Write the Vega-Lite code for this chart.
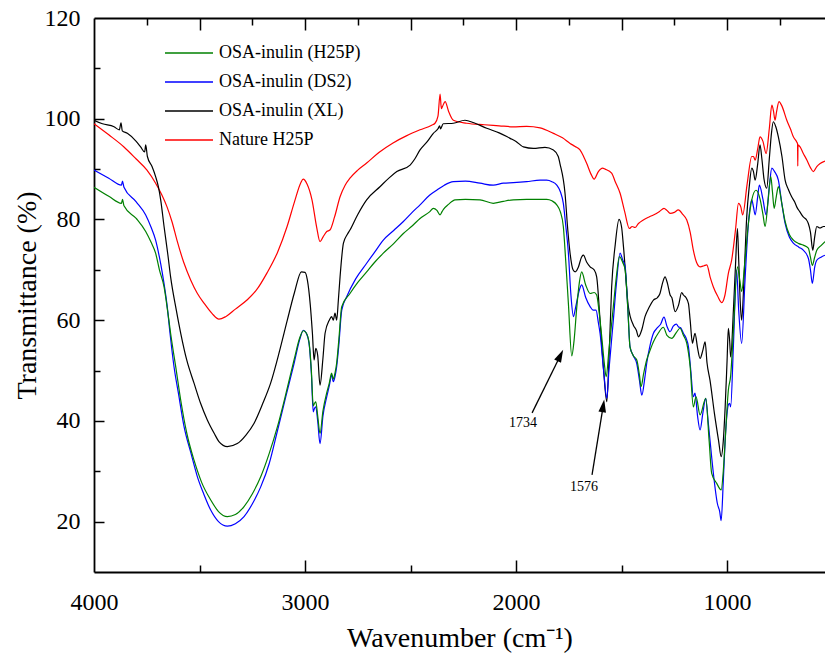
{
  "$schema": "https://vega.github.io/schema/vega-lite/v6.json",
  "width": 731,
  "height": 554,
  "autosize": {"type": "none"},
  "padding": {"left": 94, "top": 18, "right": 0, "bottom": 91},
  "background": "white",
  "config": {
    "view": {"stroke": null},
    "axis": {
      "labelFont": "Liberation Serif",
      "labelFontSize": 24,
      "labelColor": "black",
      "titleFont": "Liberation Serif",
      "titleFontSize": 28,
      "titleFontWeight": "normal",
      "titleColor": "black",
      "domainColor": "black",
      "domainWidth": 1.8,
      "tickColor": "black",
      "tickWidth": 1.5,
      "grid": false,
      "labelFlush": false,
      "labelOverlap": false
    },
    "text": {"font": "Liberation Serif"}
  },
  "datasets": {
    "spectra": [
      {"s":"Nature H25P","w":4000,"t":99.0},{"s":"Nature H25P","w":3930,"t":96.8},{"s":"Nature H25P","w":3858,"t":94.4},{"s":"Nature H25P","w":3800,"t":92.0},{"s":"Nature H25P","w":3749,"t":89.8},{"s":"Nature H25P","w":3708,"t":87.2},{"s":"Nature H25P","w":3680,"t":85.0},{"s":"Nature H25P","w":3654,"t":82.5},{"s":"Nature H25P","w":3630,"t":79.5},{"s":"Nature H25P","w":3607,"t":75.9},{"s":"Nature H25P","w":3575,"t":71.5},{"s":"Nature H25P","w":3542,"t":68.0},{"s":"Nature H25P","w":3510,"t":65.3},{"s":"Nature H25P","w":3479,"t":63.4},{"s":"Nature H25P","w":3440,"t":61.3},{"s":"Nature H25P","w":3408,"t":60.2},{"s":"Nature H25P","w":3376,"t":60.7},{"s":"Nature H25P","w":3330,"t":62.2},{"s":"Nature H25P","w":3275,"t":64.0},{"s":"Nature H25P","w":3230,"t":66.0},{"s":"Nature H25P","w":3180,"t":69.4},{"s":"Nature H25P","w":3130,"t":73.5},{"s":"Nature H25P","w":3085,"t":78.6},{"s":"Nature H25P","w":3050,"t":83.5},{"s":"Nature H25P","w":3020,"t":87.3},{"s":"Nature H25P","w":3009,"t":88.0},{"s":"Nature H25P","w":2990,"t":87.0},{"s":"Nature H25P","w":2967,"t":83.9},{"s":"Nature H25P","w":2945,"t":78.5},{"s":"Nature H25P","w":2929,"t":75.6},{"s":"Nature H25P","w":2915,"t":76.5},{"s":"Nature H25P","w":2897,"t":77.6},{"s":"Nature H25P","w":2882,"t":77.9},{"s":"Nature H25P","w":2860,"t":80.5},{"s":"Nature H25P","w":2834,"t":84.5},{"s":"Nature H25P","w":2810,"t":86.8},{"s":"Nature H25P","w":2787,"t":88.2},{"s":"Nature H25P","w":2750,"t":89.8},{"s":"Nature H25P","w":2708,"t":91.2},{"s":"Nature H25P","w":2650,"t":93.3},{"s":"Nature H25P","w":2583,"t":95.2},{"s":"Nature H25P","w":2520,"t":96.6},{"s":"Nature H25P","w":2455,"t":97.8},{"s":"Nature H25P","w":2400,"t":98.7},{"s":"Nature H25P","w":2384,"t":99.1},{"s":"Nature H25P","w":2370,"t":100.5},{"s":"Nature H25P","w":2360,"t":104.9},{"s":"Nature H25P","w":2354,"t":102.0},{"s":"Nature H25P","w":2349,"t":102.4},{"s":"Nature H25P","w":2336,"t":103.4},{"s":"Nature H25P","w":2320,"t":101.5},{"s":"Nature H25P","w":2297,"t":99.7},{"s":"Nature H25P","w":2234,"t":99.1},{"s":"Nature H25P","w":2150,"t":98.8},{"s":"Nature H25P","w":2080,"t":98.6},{"s":"Nature H25P","w":2014,"t":98.4},{"s":"Nature H25P","w":1950,"t":98.5},{"s":"Nature H25P","w":1886,"t":98.2},{"s":"Nature H25P","w":1823,"t":97.1},{"s":"Nature H25P","w":1780,"t":96.2},{"s":"Nature H25P","w":1744,"t":95.1},{"s":"Nature H25P","w":1720,"t":94.5},{"s":"Nature H25P","w":1697,"t":93.8},{"s":"Nature H25P","w":1680,"t":92.5},{"s":"Nature H25P","w":1665,"t":91.1},{"s":"Nature H25P","w":1645,"t":89.0},{"s":"Nature H25P","w":1630,"t":88.0},{"s":"Nature H25P","w":1610,"t":89.5},{"s":"Nature H25P","w":1590,"t":90.2},{"s":"Nature H25P","w":1578,"t":90.0},{"s":"Nature H25P","w":1547,"t":89.2},{"s":"Nature H25P","w":1530,"t":87.5},{"s":"Nature H25P","w":1507,"t":85.2},{"s":"Nature H25P","w":1485,"t":81.5},{"s":"Nature H25P","w":1463,"t":78.2},{"s":"Nature H25P","w":1450,"t":78.6},{"s":"Nature H25P","w":1436,"t":78.4},{"s":"Nature H25P","w":1420,"t":79.2},{"s":"Nature H25P","w":1397,"t":79.9},{"s":"Nature H25P","w":1370,"t":80.5},{"s":"Nature H25P","w":1349,"t":80.9},{"s":"Nature H25P","w":1320,"t":81.6},{"s":"Nature H25P","w":1299,"t":82.2},{"s":"Nature H25P","w":1285,"t":81.8},{"s":"Nature H25P","w":1270,"t":81.2},{"s":"Nature H25P","w":1250,"t":81.4},{"s":"Nature H25P","w":1231,"t":81.9},{"s":"Nature H25P","w":1210,"t":81.0},{"s":"Nature H25P","w":1191,"t":79.9},{"s":"Nature H25P","w":1175,"t":77.5},{"s":"Nature H25P","w":1160,"t":73.9},{"s":"Nature H25P","w":1145,"t":71.5},{"s":"Nature H25P","w":1128,"t":70.6},{"s":"Nature H25P","w":1110,"t":70.8},{"s":"Nature H25P","w":1096,"t":71.0},{"s":"Nature H25P","w":1080,"t":68.5},{"s":"Nature H25P","w":1065,"t":66.6},{"s":"Nature H25P","w":1045,"t":64.8},{"s":"Nature H25P","w":1025,"t":63.5},{"s":"Nature H25P","w":1010,"t":65.0},{"s":"Nature H25P","w":994,"t":69.3},{"s":"Nature H25P","w":978,"t":72.0},{"s":"Nature H25P","w":960,"t":78.0},{"s":"Nature H25P","w":946,"t":83.2},{"s":"Nature H25P","w":935,"t":82.5},{"s":"Nature H25P","w":926,"t":80.9},{"s":"Nature H25P","w":905,"t":87.0},{"s":"Nature H25P","w":883,"t":92.5},{"s":"Nature H25P","w":875,"t":92.5},{"s":"Nature H25P","w":867,"t":91.8},{"s":"Nature H25P","w":855,"t":94.0},{"s":"Nature H25P","w":844,"t":96.4},{"s":"Nature H25P","w":830,"t":95.5},{"s":"Nature H25P","w":815,"t":93.1},{"s":"Nature H25P","w":800,"t":98.0},{"s":"Nature H25P","w":788,"t":102.7},{"s":"Nature H25P","w":780,"t":101.5},{"s":"Nature H25P","w":773,"t":99.7},{"s":"Nature H25P","w":765,"t":101.5},{"s":"Nature H25P","w":754,"t":103.4},{"s":"Nature H25P","w":740,"t":102.5},{"s":"Nature H25P","w":717,"t":99.7},{"s":"Nature H25P","w":700,"t":98.0},{"s":"Nature H25P","w":686,"t":96.4},{"s":"Nature H25P","w":670,"t":95.4},{"s":"Nature H25P","w":666,"t":95.0},{"s":"Nature H25P","w":665,"t":90.6},{"s":"Nature H25P","w":664,"t":94.8},{"s":"Nature H25P","w":654,"t":94.4},{"s":"Nature H25P","w":640,"t":93.2},{"s":"Nature H25P","w":622,"t":91.8},{"s":"Nature H25P","w":605,"t":90.3},{"s":"Nature H25P","w":591,"t":89.5},{"s":"Nature H25P","w":575,"t":90.5},{"s":"Nature H25P","w":559,"t":91.1},{"s":"Nature H25P","w":536,"t":91.6},

      {"s":"OSA-inulin (XL)","w":4000,"t":99.7},{"s":"OSA-inulin (XL)","w":3960,"t":99.0},{"s":"OSA-inulin (XL)","w":3905,"t":98.4},{"s":"OSA-inulin (XL)","w":3880,"t":97.8},{"s":"OSA-inulin (XL)","w":3872,"t":99.2},{"s":"OSA-inulin (XL)","w":3866,"t":97.6},{"s":"OSA-inulin (XL)","w":3842,"t":97.1},{"s":"OSA-inulin (XL)","w":3800,"t":95.5},{"s":"OSA-inulin (XL)","w":3779,"t":94.4},{"s":"OSA-inulin (XL)","w":3760,"t":93.4},{"s":"OSA-inulin (XL)","w":3755,"t":94.8},{"s":"OSA-inulin (XL)","w":3747,"t":92.5},{"s":"OSA-inulin (XL)","w":3725,"t":90.5},{"s":"OSA-inulin (XL)","w":3708,"t":88.5},{"s":"OSA-inulin (XL)","w":3695,"t":86.5},{"s":"OSA-inulin (XL)","w":3684,"t":83.9},{"s":"OSA-inulin (XL)","w":3668,"t":78.6},{"s":"OSA-inulin (XL)","w":3650,"t":73.0},{"s":"OSA-inulin (XL)","w":3637,"t":68.6},{"s":"OSA-inulin (XL)","w":3610,"t":62.0},{"s":"OSA-inulin (XL)","w":3589,"t":57.4},{"s":"OSA-inulin (XL)","w":3560,"t":52.0},{"s":"OSA-inulin (XL)","w":3526,"t":47.5},{"s":"OSA-inulin (XL)","w":3495,"t":43.5},{"s":"OSA-inulin (XL)","w":3463,"t":40.2},{"s":"OSA-inulin (XL)","w":3430,"t":37.5},{"s":"OSA-inulin (XL)","w":3408,"t":35.9},{"s":"OSA-inulin (XL)","w":3368,"t":34.9},{"s":"OSA-inulin (XL)","w":3321,"t":35.5},{"s":"OSA-inulin (XL)","w":3280,"t":37.2},{"s":"OSA-inulin (XL)","w":3242,"t":39.5},{"s":"OSA-inulin (XL)","w":3200,"t":43.5},{"s":"OSA-inulin (XL)","w":3163,"t":47.5},{"s":"OSA-inulin (XL)","w":3120,"t":54.0},{"s":"OSA-inulin (XL)","w":3084,"t":60.0},{"s":"OSA-inulin (XL)","w":3050,"t":65.5},{"s":"OSA-inulin (XL)","w":3017,"t":69.6},{"s":"OSA-inulin (XL)","w":3000,"t":69.5},{"s":"OSA-inulin (XL)","w":2989,"t":68.0},{"s":"OSA-inulin (XL)","w":2975,"t":63.0},{"s":"OSA-inulin (XL)","w":2965,"t":57.4},{"s":"OSA-inulin (XL)","w":2957,"t":52.1},{"s":"OSA-inulin (XL)","w":2949,"t":54.4},{"s":"OSA-inulin (XL)","w":2940,"t":53.0},{"s":"OSA-inulin (XL)","w":2929,"t":47.1},{"s":"OSA-inulin (XL)","w":2915,"t":52.5},{"s":"OSA-inulin (XL)","w":2905,"t":57.4},{"s":"OSA-inulin (XL)","w":2885,"t":60.0},{"s":"OSA-inulin (XL)","w":2874,"t":60.7},{"s":"OSA-inulin (XL)","w":2866,"t":60.0},{"s":"OSA-inulin (XL)","w":2858,"t":61.4},{"s":"OSA-inulin (XL)","w":2850,"t":60.0},{"s":"OSA-inulin (XL)","w":2842,"t":64.0},{"s":"OSA-inulin (XL)","w":2834,"t":68.6},{"s":"OSA-inulin (XL)","w":2818,"t":75.3},{"s":"OSA-inulin (XL)","w":2800,"t":77.0},{"s":"OSA-inulin (XL)","w":2787,"t":77.9},{"s":"OSA-inulin (XL)","w":2750,"t":81.0},{"s":"OSA-inulin (XL)","w":2708,"t":83.9},{"s":"OSA-inulin (XL)","w":2645,"t":86.5},{"s":"OSA-inulin (XL)","w":2600,"t":88.3},{"s":"OSA-inulin (XL)","w":2565,"t":89.5},{"s":"OSA-inulin (XL)","w":2502,"t":90.8},{"s":"OSA-inulin (XL)","w":2480,"t":92.0},{"s":"OSA-inulin (XL)","w":2455,"t":93.8},{"s":"OSA-inulin (XL)","w":2420,"t":95.5},{"s":"OSA-inulin (XL)","w":2392,"t":97.1},{"s":"OSA-inulin (XL)","w":2370,"t":98.0},{"s":"OSA-inulin (XL)","w":2362,"t":98.6},{"s":"OSA-inulin (XL)","w":2358,"t":98.0},{"s":"OSA-inulin (XL)","w":2345,"t":99.0},{"s":"OSA-inulin (XL)","w":2297,"t":99.1},{"s":"OSA-inulin (XL)","w":2242,"t":99.7},{"s":"OSA-inulin (XL)","w":2200,"t":99.2},{"s":"OSA-inulin (XL)","w":2139,"t":98.1},{"s":"OSA-inulin (XL)","w":2080,"t":97.2},{"s":"OSA-inulin (XL)","w":2028,"t":96.1},{"s":"OSA-inulin (XL)","w":2000,"t":95.5},{"s":"OSA-inulin (XL)","w":1965,"t":94.4},{"s":"OSA-inulin (XL)","w":1918,"t":94.1},{"s":"OSA-inulin (XL)","w":1863,"t":94.3},{"s":"OSA-inulin (XL)","w":1823,"t":93.8},{"s":"OSA-inulin (XL)","w":1800,"t":92.5},{"s":"OSA-inulin (XL)","w":1792,"t":91.1},{"s":"OSA-inulin (XL)","w":1768,"t":85.2},{"s":"OSA-inulin (XL)","w":1755,"t":78.0},{"s":"OSA-inulin (XL)","w":1744,"t":73.3},{"s":"OSA-inulin (XL)","w":1730,"t":70.0},{"s":"OSA-inulin (XL)","w":1720,"t":69.6},{"s":"OSA-inulin (XL)","w":1705,"t":70.5},{"s":"OSA-inulin (XL)","w":1690,"t":72.5},{"s":"OSA-inulin (XL)","w":1681,"t":72.9},{"s":"OSA-inulin (XL)","w":1665,"t":71.5},{"s":"OSA-inulin (XL)","w":1649,"t":70.6},{"s":"OSA-inulin (XL)","w":1630,"t":70.0},{"s":"OSA-inulin (XL)","w":1618,"t":68.6},{"s":"OSA-inulin (XL)","w":1602,"t":60.0},{"s":"OSA-inulin (XL)","w":1585,"t":50.0},{"s":"OSA-inulin (XL)","w":1570,"t":43.8},{"s":"OSA-inulin (XL)","w":1560,"t":52.0},{"s":"OSA-inulin (XL)","w":1547,"t":66.6},{"s":"OSA-inulin (XL)","w":1530,"t":75.0},{"s":"OSA-inulin (XL)","w":1512,"t":80.0},{"s":"OSA-inulin (XL)","w":1500,"t":78.5},{"s":"OSA-inulin (XL)","w":1491,"t":74.6},{"s":"OSA-inulin (XL)","w":1468,"t":62.7},{"s":"OSA-inulin (XL)","w":1444,"t":59.0},{"s":"OSA-inulin (XL)","w":1430,"t":58.0},{"s":"OSA-inulin (XL)","w":1420,"t":56.7},{"s":"OSA-inulin (XL)","w":1405,"t":58.0},{"s":"OSA-inulin (XL)","w":1389,"t":60.7},{"s":"OSA-inulin (XL)","w":1370,"t":62.5},{"s":"OSA-inulin (XL)","w":1349,"t":64.0},{"s":"OSA-inulin (XL)","w":1330,"t":64.5},{"s":"OSA-inulin (XL)","w":1318,"t":65.3},{"s":"OSA-inulin (XL)","w":1305,"t":67.5},{"s":"OSA-inulin (XL)","w":1294,"t":68.6},{"s":"OSA-inulin (XL)","w":1282,"t":67.2},{"s":"OSA-inulin (XL)","w":1270,"t":65.0},{"s":"OSA-inulin (XL)","w":1262,"t":64.5},{"s":"OSA-inulin (XL)","w":1246,"t":61.7},{"s":"OSA-inulin (XL)","w":1230,"t":63.0},{"s":"OSA-inulin (XL)","w":1215,"t":65.5},{"s":"OSA-inulin (XL)","w":1207,"t":65.0},{"s":"OSA-inulin (XL)","w":1195,"t":64.5},{"s":"OSA-inulin (XL)","w":1183,"t":63.3},{"s":"OSA-inulin (XL)","w":1175,"t":60.0},{"s":"OSA-inulin (XL)","w":1164,"t":55.4},{"s":"OSA-inulin (XL)","w":1158,"t":56.5},{"s":"OSA-inulin (XL)","w":1152,"t":57.4},{"s":"OSA-inulin (XL)","w":1140,"t":54.5},{"s":"OSA-inulin (XL)","w":1128,"t":52.4},{"s":"OSA-inulin (XL)","w":1115,"t":54.0},{"s":"OSA-inulin (XL)","w":1104,"t":55.7},{"s":"OSA-inulin (XL)","w":1095,"t":51.5},{"s":"OSA-inulin (XL)","w":1081,"t":48.1},{"s":"OSA-inulin (XL)","w":1060,"t":41.5},{"s":"OSA-inulin (XL)","w":1040,"t":36.0},{"s":"OSA-inulin (XL)","w":1028,"t":32.9},{"s":"OSA-inulin (XL)","w":1018,"t":36.0},{"s":"OSA-inulin (XL)","w":1009,"t":42.8},{"s":"OSA-inulin (XL)","w":1000,"t":52.0},{"s":"OSA-inulin (XL)","w":994,"t":58.4},{"s":"OSA-inulin (XL)","w":988,"t":56.0},{"s":"OSA-inulin (XL)","w":983,"t":52.7},{"s":"OSA-inulin (XL)","w":970,"t":62.0},{"s":"OSA-inulin (XL)","w":960,"t":71.0},{"s":"OSA-inulin (XL)","w":951,"t":78.2},{"s":"OSA-inulin (XL)","w":945,"t":72.0},{"s":"OSA-inulin (XL)","w":937,"t":63.0},{"s":"OSA-inulin (XL)","w":931,"t":60.0},{"s":"OSA-inulin (XL)","w":920,"t":68.0},{"s":"OSA-inulin (XL)","w":907,"t":80.5},{"s":"OSA-inulin (XL)","w":895,"t":86.5},{"s":"OSA-inulin (XL)","w":883,"t":90.2},{"s":"OSA-inulin (XL)","w":875,"t":89.5},{"s":"OSA-inulin (XL)","w":867,"t":87.8},{"s":"OSA-inulin (XL)","w":855,"t":91.0},{"s":"OSA-inulin (XL)","w":844,"t":94.8},{"s":"OSA-inulin (XL)","w":835,"t":92.0},{"s":"OSA-inulin (XL)","w":825,"t":88.0},{"s":"OSA-inulin (XL)","w":812,"t":86.2},{"s":"OSA-inulin (XL)","w":800,"t":92.0},{"s":"OSA-inulin (XL)","w":790,"t":97.0},{"s":"OSA-inulin (XL)","w":781,"t":99.4},{"s":"OSA-inulin (XL)","w":770,"t":98.5},{"s":"OSA-inulin (XL)","w":757,"t":96.4},{"s":"OSA-inulin (XL)","w":740,"t":92.5},{"s":"OSA-inulin (XL)","w":725,"t":87.8},{"s":"OSA-inulin (XL)","w":710,"t":86.0},{"s":"OSA-inulin (XL)","w":694,"t":84.5},{"s":"OSA-inulin (XL)","w":680,"t":83.5},{"s":"OSA-inulin (XL)","w":670,"t":82.5},{"s":"OSA-inulin (XL)","w":655,"t":81.5},{"s":"OSA-inulin (XL)","w":639,"t":80.5},{"s":"OSA-inulin (XL)","w":625,"t":80.0},{"s":"OSA-inulin (XL)","w":615,"t":79.2},{"s":"OSA-inulin (XL)","w":605,"t":77.5},{"s":"OSA-inulin (XL)","w":594,"t":73.9},{"s":"OSA-inulin (XL)","w":585,"t":76.5},{"s":"OSA-inulin (XL)","w":575,"t":78.6},{"s":"OSA-inulin (XL)","w":560,"t":78.3},{"s":"OSA-inulin (XL)","w":543,"t":78.6},{"s":"OSA-inulin (XL)","w":536,"t":78.6},

      {"s":"OSA-inulin (DS2)","w":4000,"t":89.8},{"s":"OSA-inulin (DS2)","w":3930,"t":88.2},{"s":"OSA-inulin (DS2)","w":3870,"t":86.8},{"s":"OSA-inulin (DS2)","w":3865,"t":87.6},{"s":"OSA-inulin (DS2)","w":3858,"t":86.4},{"s":"OSA-inulin (DS2)","w":3800,"t":83.5},{"s":"OSA-inulin (DS2)","w":3755,"t":80.9},{"s":"OSA-inulin (DS2)","w":3730,"t":78.5},{"s":"OSA-inulin (DS2)","w":3708,"t":75.9},{"s":"OSA-inulin (DS2)","w":3690,"t":72.5},{"s":"OSA-inulin (DS2)","w":3676,"t":69.3},{"s":"OSA-inulin (DS2)","w":3653,"t":62.7},{"s":"OSA-inulin (DS2)","w":3640,"t":57.5},{"s":"OSA-inulin (DS2)","w":3621,"t":50.8},{"s":"OSA-inulin (DS2)","w":3600,"t":45.5},{"s":"OSA-inulin (DS2)","w":3573,"t":38.8},{"s":"OSA-inulin (DS2)","w":3540,"t":33.5},{"s":"OSA-inulin (DS2)","w":3510,"t":28.9},{"s":"OSA-inulin (DS2)","w":3480,"t":25.5},{"s":"OSA-inulin (DS2)","w":3447,"t":22.3},{"s":"OSA-inulin (DS2)","w":3410,"t":20.0},{"s":"OSA-inulin (DS2)","w":3368,"t":19.1},{"s":"OSA-inulin (DS2)","w":3330,"t":19.6},{"s":"OSA-inulin (DS2)","w":3289,"t":21.0},{"s":"OSA-inulin (DS2)","w":3250,"t":23.5},{"s":"OSA-inulin (DS2)","w":3210,"t":26.9},{"s":"OSA-inulin (DS2)","w":3170,"t":31.5},{"s":"OSA-inulin (DS2)","w":3131,"t":38.0},{"s":"OSA-inulin (DS2)","w":3090,"t":45.0},{"s":"OSA-inulin (DS2)","w":3052,"t":51.4},{"s":"OSA-inulin (DS2)","w":3025,"t":56.2},{"s":"OSA-inulin (DS2)","w":3008,"t":58.0},{"s":"OSA-inulin (DS2)","w":2995,"t":57.5},{"s":"OSA-inulin (DS2)","w":2981,"t":55.4},{"s":"OSA-inulin (DS2)","w":2970,"t":49.5},{"s":"OSA-inulin (DS2)","w":2961,"t":41.8},{"s":"OSA-inulin (DS2)","w":2955,"t":42.5},{"s":"OSA-inulin (DS2)","w":2949,"t":42.8},{"s":"OSA-inulin (DS2)","w":2940,"t":40.0},{"s":"OSA-inulin (DS2)","w":2929,"t":35.5},{"s":"OSA-inulin (DS2)","w":2915,"t":41.0},{"s":"OSA-inulin (DS2)","w":2897,"t":44.8},{"s":"OSA-inulin (DS2)","w":2885,"t":47.0},{"s":"OSA-inulin (DS2)","w":2874,"t":49.1},{"s":"OSA-inulin (DS2)","w":2866,"t":47.8},{"s":"OSA-inulin (DS2)","w":2858,"t":48.8},{"s":"OSA-inulin (DS2)","w":2850,"t":50.8},{"s":"OSA-inulin (DS2)","w":2840,"t":55.0},{"s":"OSA-inulin (DS2)","w":2826,"t":62.0},{"s":"OSA-inulin (DS2)","w":2802,"t":64.7},{"s":"OSA-inulin (DS2)","w":2760,"t":68.2},{"s":"OSA-inulin (DS2)","w":2708,"t":71.3},{"s":"OSA-inulin (DS2)","w":2670,"t":73.5},{"s":"OSA-inulin (DS2)","w":2629,"t":75.9},{"s":"OSA-inulin (DS2)","w":2580,"t":77.8},{"s":"OSA-inulin (DS2)","w":2534,"t":79.6},{"s":"OSA-inulin (DS2)","w":2490,"t":81.5},{"s":"OSA-inulin (DS2)","w":2455,"t":82.9},{"s":"OSA-inulin (DS2)","w":2410,"t":84.8},{"s":"OSA-inulin (DS2)","w":2376,"t":85.8},{"s":"OSA-inulin (DS2)","w":2340,"t":86.8},{"s":"OSA-inulin (DS2)","w":2297,"t":87.5},{"s":"OSA-inulin (DS2)","w":2240,"t":87.6},{"s":"OSA-inulin (DS2)","w":2171,"t":87.2},{"s":"OSA-inulin (DS2)","w":2108,"t":86.8},{"s":"OSA-inulin (DS2)","w":2060,"t":87.2},{"s":"OSA-inulin (DS2)","w":2013,"t":87.3},{"s":"OSA-inulin (DS2)","w":1950,"t":87.5},{"s":"OSA-inulin (DS2)","w":1886,"t":87.8},{"s":"OSA-inulin (DS2)","w":1855,"t":87.8},{"s":"OSA-inulin (DS2)","w":1830,"t":87.5},{"s":"OSA-inulin (DS2)","w":1807,"t":86.8},{"s":"OSA-inulin (DS2)","w":1790,"t":85.5},{"s":"OSA-inulin (DS2)","w":1776,"t":83.2},{"s":"OSA-inulin (DS2)","w":1765,"t":79.0},{"s":"OSA-inulin (DS2)","w":1752,"t":73.3},{"s":"OSA-inulin (DS2)","w":1740,"t":65.0},{"s":"OSA-inulin (DS2)","w":1728,"t":60.7},{"s":"OSA-inulin (DS2)","w":1718,"t":62.5},{"s":"OSA-inulin (DS2)","w":1700,"t":66.0},{"s":"OSA-inulin (DS2)","w":1689,"t":67.0},{"s":"OSA-inulin (DS2)","w":1670,"t":64.5},{"s":"OSA-inulin (DS2)","w":1649,"t":62.7},{"s":"OSA-inulin (DS2)","w":1635,"t":62.0},{"s":"OSA-inulin (DS2)","w":1621,"t":62.0},{"s":"OSA-inulin (DS2)","w":1610,"t":59.5},{"s":"OSA-inulin (DS2)","w":1602,"t":57.4},{"s":"OSA-inulin (DS2)","w":1585,"t":50.0},{"s":"OSA-inulin (DS2)","w":1570,"t":44.5},{"s":"OSA-inulin (DS2)","w":1560,"t":50.0},{"s":"OSA-inulin (DS2)","w":1539,"t":60.0},{"s":"OSA-inulin (DS2)","w":1525,"t":67.0},{"s":"OSA-inulin (DS2)","w":1507,"t":73.3},{"s":"OSA-inulin (DS2)","w":1495,"t":72.0},{"s":"OSA-inulin (DS2)","w":1483,"t":70.6},{"s":"OSA-inulin (DS2)","w":1470,"t":62.0},{"s":"OSA-inulin (DS2)","w":1460,"t":54.7},{"s":"OSA-inulin (DS2)","w":1445,"t":53.0},{"s":"OSA-inulin (DS2)","w":1428,"t":51.4},{"s":"OSA-inulin (DS2)","w":1415,"t":48.0},{"s":"OSA-inulin (DS2)","w":1404,"t":45.1},{"s":"OSA-inulin (DS2)","w":1390,"t":48.5},{"s":"OSA-inulin (DS2)","w":1381,"t":51.4},{"s":"OSA-inulin (DS2)","w":1365,"t":55.0},{"s":"OSA-inulin (DS2)","w":1349,"t":57.4},{"s":"OSA-inulin (DS2)","w":1330,"t":58.5},{"s":"OSA-inulin (DS2)","w":1315,"t":59.2},{"s":"OSA-inulin (DS2)","w":1299,"t":60.6},{"s":"OSA-inulin (DS2)","w":1285,"t":58.8},{"s":"OSA-inulin (DS2)","w":1270,"t":57.7},{"s":"OSA-inulin (DS2)","w":1255,"t":58.8},{"s":"OSA-inulin (DS2)","w":1240,"t":59.2},{"s":"OSA-inulin (DS2)","w":1231,"t":58.7},{"s":"OSA-inulin (DS2)","w":1220,"t":58.5},{"s":"OSA-inulin (DS2)","w":1207,"t":57.4},{"s":"OSA-inulin (DS2)","w":1195,"t":56.5},{"s":"OSA-inulin (DS2)","w":1183,"t":54.7},{"s":"OSA-inulin (DS2)","w":1172,"t":50.0},{"s":"OSA-inulin (DS2)","w":1160,"t":44.8},{"s":"OSA-inulin (DS2)","w":1152,"t":45.5},{"s":"OSA-inulin (DS2)","w":1140,"t":41.0},{"s":"OSA-inulin (DS2)","w":1128,"t":38.2},{"s":"OSA-inulin (DS2)","w":1115,"t":41.5},{"s":"OSA-inulin (DS2)","w":1101,"t":44.5},{"s":"OSA-inulin (DS2)","w":1090,"t":40.0},{"s":"OSA-inulin (DS2)","w":1081,"t":36.2},{"s":"OSA-inulin (DS2)","w":1065,"t":29.6},{"s":"OSA-inulin (DS2)","w":1046,"t":23.6},{"s":"OSA-inulin (DS2)","w":1035,"t":22.0},{"s":"OSA-inulin (DS2)","w":1028,"t":20.2},{"s":"OSA-inulin (DS2)","w":1018,"t":28.0},{"s":"OSA-inulin (DS2)","w":1009,"t":36.2},{"s":"OSA-inulin (DS2)","w":994,"t":43.2},{"s":"OSA-inulin (DS2)","w":988,"t":43.5},{"s":"OSA-inulin (DS2)","w":983,"t":42.8},{"s":"OSA-inulin (DS2)","w":970,"t":55.0},{"s":"OSA-inulin (DS2)","w":955,"t":70.0},{"s":"OSA-inulin (DS2)","w":945,"t":62.0},{"s":"OSA-inulin (DS2)","w":931,"t":55.4},{"s":"OSA-inulin (DS2)","w":915,"t":68.0},{"s":"OSA-inulin (DS2)","w":899,"t":79.2},{"s":"OSA-inulin (DS2)","w":883,"t":83.9},{"s":"OSA-inulin (DS2)","w":875,"t":82.5},{"s":"OSA-inulin (DS2)","w":867,"t":80.9},{"s":"OSA-inulin (DS2)","w":855,"t":84.5},{"s":"OSA-inulin (DS2)","w":847,"t":86.8},{"s":"OSA-inulin (DS2)","w":830,"t":84.0},{"s":"OSA-inulin (DS2)","w":815,"t":80.9},{"s":"OSA-inulin (DS2)","w":800,"t":86.5},{"s":"OSA-inulin (DS2)","w":788,"t":90.2},{"s":"OSA-inulin (DS2)","w":775,"t":89.5},{"s":"OSA-inulin (DS2)","w":757,"t":87.8},{"s":"OSA-inulin (DS2)","w":740,"t":83.0},{"s":"OSA-inulin (DS2)","w":725,"t":79.2},{"s":"OSA-inulin (DS2)","w":705,"t":76.5},{"s":"OSA-inulin (DS2)","w":686,"t":75.3},{"s":"OSA-inulin (DS2)","w":660,"t":74.5},{"s":"OSA-inulin (DS2)","w":639,"t":73.9},{"s":"OSA-inulin (DS2)","w":615,"t":72.3},{"s":"OSA-inulin (DS2)","w":605,"t":70.0},{"s":"OSA-inulin (DS2)","w":596,"t":67.3},{"s":"OSA-inulin (DS2)","w":585,"t":70.5},{"s":"OSA-inulin (DS2)","w":575,"t":71.9},{"s":"OSA-inulin (DS2)","w":555,"t":72.5},{"s":"OSA-inulin (DS2)","w":536,"t":72.9},

      {"s":"OSA-inulin (H25P)","w":4000,"t":86.4},{"s":"OSA-inulin (H25P)","w":3930,"t":84.6},{"s":"OSA-inulin (H25P)","w":3870,"t":83.2},{"s":"OSA-inulin (H25P)","w":3865,"t":84.0},{"s":"OSA-inulin (H25P)","w":3858,"t":82.7},{"s":"OSA-inulin (H25P)","w":3800,"t":80.2},{"s":"OSA-inulin (H25P)","w":3755,"t":77.6},{"s":"OSA-inulin (H25P)","w":3730,"t":75.5},{"s":"OSA-inulin (H25P)","w":3708,"t":73.3},{"s":"OSA-inulin (H25P)","w":3690,"t":70.0},{"s":"OSA-inulin (H25P)","w":3668,"t":66.6},{"s":"OSA-inulin (H25P)","w":3650,"t":61.5},{"s":"OSA-inulin (H25P)","w":3637,"t":57.4},{"s":"OSA-inulin (H25P)","w":3610,"t":50.0},{"s":"OSA-inulin (H25P)","w":3589,"t":44.1},{"s":"OSA-inulin (H25P)","w":3560,"t":37.5},{"s":"OSA-inulin (H25P)","w":3526,"t":32.2},{"s":"OSA-inulin (H25P)","w":3490,"t":27.8},{"s":"OSA-inulin (H25P)","w":3447,"t":24.3},{"s":"OSA-inulin (H25P)","w":3410,"t":22.0},{"s":"OSA-inulin (H25P)","w":3368,"t":21.0},{"s":"OSA-inulin (H25P)","w":3330,"t":21.4},{"s":"OSA-inulin (H25P)","w":3289,"t":23.0},{"s":"OSA-inulin (H25P)","w":3250,"t":25.5},{"s":"OSA-inulin (H25P)","w":3210,"t":28.9},{"s":"OSA-inulin (H25P)","w":3170,"t":33.5},{"s":"OSA-inulin (H25P)","w":3131,"t":38.8},{"s":"OSA-inulin (H25P)","w":3090,"t":45.5},{"s":"OSA-inulin (H25P)","w":3052,"t":52.1},{"s":"OSA-inulin (H25P)","w":3025,"t":56.5},{"s":"OSA-inulin (H25P)","w":3008,"t":57.9},{"s":"OSA-inulin (H25P)","w":2995,"t":57.5},{"s":"OSA-inulin (H25P)","w":2981,"t":55.6},{"s":"OSA-inulin (H25P)","w":2970,"t":50.0},{"s":"OSA-inulin (H25P)","w":2961,"t":43.0},{"s":"OSA-inulin (H25P)","w":2955,"t":43.5},{"s":"OSA-inulin (H25P)","w":2949,"t":43.8},{"s":"OSA-inulin (H25P)","w":2940,"t":41.0},{"s":"OSA-inulin (H25P)","w":2929,"t":37.5},{"s":"OSA-inulin (H25P)","w":2915,"t":42.0},{"s":"OSA-inulin (H25P)","w":2897,"t":45.6},{"s":"OSA-inulin (H25P)","w":2885,"t":47.5},{"s":"OSA-inulin (H25P)","w":2874,"t":49.5},{"s":"OSA-inulin (H25P)","w":2866,"t":48.3},{"s":"OSA-inulin (H25P)","w":2858,"t":49.5},{"s":"OSA-inulin (H25P)","w":2850,"t":51.5},{"s":"OSA-inulin (H25P)","w":2840,"t":56.0},{"s":"OSA-inulin (H25P)","w":2826,"t":62.7},{"s":"OSA-inulin (H25P)","w":2787,"t":65.3},{"s":"OSA-inulin (H25P)","w":2750,"t":67.5},{"s":"OSA-inulin (H25P)","w":2708,"t":69.6},{"s":"OSA-inulin (H25P)","w":2670,"t":71.5},{"s":"OSA-inulin (H25P)","w":2629,"t":73.3},{"s":"OSA-inulin (H25P)","w":2580,"t":75.2},{"s":"OSA-inulin (H25P)","w":2534,"t":77.2},{"s":"OSA-inulin (H25P)","w":2490,"t":78.8},{"s":"OSA-inulin (H25P)","w":2455,"t":80.2},{"s":"OSA-inulin (H25P)","w":2410,"t":81.5},{"s":"OSA-inulin (H25P)","w":2392,"t":82.2},{"s":"OSA-inulin (H25P)","w":2375,"t":81.8},{"s":"OSA-inulin (H25P)","w":2360,"t":80.9},{"s":"OSA-inulin (H25P)","w":2350,"t":81.6},{"s":"OSA-inulin (H25P)","w":2344,"t":82.0},{"s":"OSA-inulin (H25P)","w":2320,"t":83.0},{"s":"OSA-inulin (H25P)","w":2289,"t":83.9},{"s":"OSA-inulin (H25P)","w":2240,"t":84.0},{"s":"OSA-inulin (H25P)","w":2171,"t":83.9},{"s":"OSA-inulin (H25P)","w":2108,"t":83.2},{"s":"OSA-inulin (H25P)","w":2060,"t":83.6},{"s":"OSA-inulin (H25P)","w":2013,"t":83.9},{"s":"OSA-inulin (H25P)","w":1950,"t":84.0},{"s":"OSA-inulin (H25P)","w":1886,"t":84.0},{"s":"OSA-inulin (H25P)","w":1855,"t":84.0},{"s":"OSA-inulin (H25P)","w":1830,"t":83.7},{"s":"OSA-inulin (H25P)","w":1807,"t":82.9},{"s":"OSA-inulin (H25P)","w":1790,"t":81.5},{"s":"OSA-inulin (H25P)","w":1776,"t":78.6},{"s":"OSA-inulin (H25P)","w":1765,"t":72.0},{"s":"OSA-inulin (H25P)","w":1752,"t":63.3},{"s":"OSA-inulin (H25P)","w":1736,"t":52.9},{"s":"OSA-inulin (H25P)","w":1725,"t":56.0},{"s":"OSA-inulin (H25P)","w":1712,"t":62.7},{"s":"OSA-inulin (H25P)","w":1700,"t":67.5},{"s":"OSA-inulin (H25P)","w":1689,"t":69.6},{"s":"OSA-inulin (H25P)","w":1670,"t":67.0},{"s":"OSA-inulin (H25P)","w":1649,"t":65.3},{"s":"OSA-inulin (H25P)","w":1630,"t":65.5},{"s":"OSA-inulin (H25P)","w":1618,"t":65.0},{"s":"OSA-inulin (H25P)","w":1606,"t":61.5},{"s":"OSA-inulin (H25P)","w":1594,"t":56.7},{"s":"OSA-inulin (H25P)","w":1582,"t":51.5},{"s":"OSA-inulin (H25P)","w":1573,"t":48.8},{"s":"OSA-inulin (H25P)","w":1560,"t":54.0},{"s":"OSA-inulin (H25P)","w":1539,"t":62.7},{"s":"OSA-inulin (H25P)","w":1525,"t":68.5},{"s":"OSA-inulin (H25P)","w":1510,"t":72.6},{"s":"OSA-inulin (H25P)","w":1495,"t":71.5},{"s":"OSA-inulin (H25P)","w":1483,"t":70.0},{"s":"OSA-inulin (H25P)","w":1470,"t":62.0},{"s":"OSA-inulin (H25P)","w":1460,"t":54.7},{"s":"OSA-inulin (H25P)","w":1445,"t":53.0},{"s":"OSA-inulin (H25P)","w":1428,"t":52.1},{"s":"OSA-inulin (H25P)","w":1415,"t":49.0},{"s":"OSA-inulin (H25P)","w":1408,"t":46.8},{"s":"OSA-inulin (H25P)","w":1395,"t":49.5},{"s":"OSA-inulin (H25P)","w":1381,"t":52.1},{"s":"OSA-inulin (H25P)","w":1365,"t":54.0},{"s":"OSA-inulin (H25P)","w":1349,"t":55.7},{"s":"OSA-inulin (H25P)","w":1325,"t":57.5},{"s":"OSA-inulin (H25P)","w":1302,"t":58.6},{"s":"OSA-inulin (H25P)","w":1285,"t":57.0},{"s":"OSA-inulin (H25P)","w":1262,"t":56.4},{"s":"OSA-inulin (H25P)","w":1240,"t":57.6},{"s":"OSA-inulin (H25P)","w":1223,"t":58.4},{"s":"OSA-inulin (H25P)","w":1207,"t":57.0},{"s":"OSA-inulin (H25P)","w":1191,"t":55.4},{"s":"OSA-inulin (H25P)","w":1175,"t":50.8},{"s":"OSA-inulin (H25P)","w":1160,"t":42.8},{"s":"OSA-inulin (H25P)","w":1147,"t":44.8},{"s":"OSA-inulin (H25P)","w":1128,"t":41.2},{"s":"OSA-inulin (H25P)","w":1101,"t":44.5},{"s":"OSA-inulin (H25P)","w":1085,"t":36.0},{"s":"OSA-inulin (H25P)","w":1073,"t":29.6},{"s":"OSA-inulin (H25P)","w":1049,"t":27.6},{"s":"OSA-inulin (H25P)","w":1028,"t":26.3},{"s":"OSA-inulin (H25P)","w":1018,"t":30.0},{"s":"OSA-inulin (H25P)","w":1009,"t":36.2},{"s":"OSA-inulin (H25P)","w":994,"t":46.1},{"s":"OSA-inulin (H25P)","w":983,"t":49.0},{"s":"OSA-inulin (H25P)","w":970,"t":58.0},{"s":"OSA-inulin (H25P)","w":951,"t":70.6},{"s":"OSA-inulin (H25P)","w":940,"t":68.0},{"s":"OSA-inulin (H25P)","w":931,"t":65.7},{"s":"OSA-inulin (H25P)","w":915,"t":72.0},{"s":"OSA-inulin (H25P)","w":899,"t":79.2},{"s":"OSA-inulin (H25P)","w":883,"t":83.9},{"s":"OSA-inulin (H25P)","w":863,"t":85.8},{"s":"OSA-inulin (H25P)","w":844,"t":84.1},{"s":"OSA-inulin (H25P)","w":830,"t":81.0},{"s":"OSA-inulin (H25P)","w":820,"t":78.6},{"s":"OSA-inulin (H25P)","w":805,"t":84.0},{"s":"OSA-inulin (H25P)","w":793,"t":88.5},{"s":"OSA-inulin (H25P)","w":785,"t":85.5},{"s":"OSA-inulin (H25P)","w":777,"t":82.2},{"s":"OSA-inulin (H25P)","w":767,"t":84.5},{"s":"OSA-inulin (H25P)","w":757,"t":86.5},{"s":"OSA-inulin (H25P)","w":740,"t":83.0},{"s":"OSA-inulin (H25P)","w":725,"t":79.6},{"s":"OSA-inulin (H25P)","w":705,"t":77.0},{"s":"OSA-inulin (H25P)","w":686,"t":75.9},{"s":"OSA-inulin (H25P)","w":660,"t":75.2},{"s":"OSA-inulin (H25P)","w":639,"t":74.9},{"s":"OSA-inulin (H25P)","w":615,"t":74.3},{"s":"OSA-inulin (H25P)","w":605,"t":72.5},{"s":"OSA-inulin (H25P)","w":596,"t":70.9},{"s":"OSA-inulin (H25P)","w":585,"t":72.5},{"s":"OSA-inulin (H25P)","w":575,"t":73.9},{"s":"OSA-inulin (H25P)","w":555,"t":74.8},{"s":"OSA-inulin (H25P)","w":536,"t":75.6}
    ],
    "label1734": [{"label":"1734","w":1967,"t":39.6}],
    "label1576": [{"label":"1576","w":1678,"t":26.9}],
    "arrows": [
      {"peak":"1734","w":1924,"t":41.6,"w2":1790,"t2":53.0},
      {"peak":"1576","w":1640,"t":29.3,"w2":1587,"t2":43.0}
    ],
    "head1734": [{"w":1790,"t":53.0}],
    "head1576": [{"w":1587,"t":43.0}]
  },
  "resolve": {
    "scale": {"x": "shared", "y": "shared"},
    "axis": {"x": "independent", "y": "independent"}
  },
  "layer": [
    {
      "data": {"name": "spectra"},
      "mark": {"type": "line", "strokeWidth": 1.2, "interpolate": "monotone", "clip": true},
      "encoding": {
        "x": {"field": "w", "type": "quantitative",
          "scale": {"domain": [4000, 536], "nice": false, "zero": false},
          "axis": {"orient": "bottom", "values": [4000, 3000, 2000, 1000], "format": "d", "ticks": false, "tickSize": 0, "labelPadding": 18, "title": "Wavenumber (cm⁻¹)", "titlePadding": 10}},
        "y": {"field": "t", "type": "quantitative",
          "scale": {"domain": [10, 120], "nice": false, "zero": false},
          "axis": {"orient": "left", "values": [20, 40, 60, 80, 100, 120], "format": "d", "ticks": false, "tickSize": 0, "labelPadding": 14, "title": "Transmittance (%)", "titlePadding": 3}},
        "color": {"field": "s", "type": "nominal",
          "scale": {"domain": ["OSA-inulin (H25P)", "OSA-inulin (DS2)", "OSA-inulin (XL)", "Nature H25P"],
                    "range": ["#008000", "#0000ff", "#000000", "#ff0000"]},
          "legend": {"orient": "none", "legendX": 82, "legendY": 22, "title": null, "symbolType": "M-2,0H2", "symbolSize": 576, "symbolStrokeWidth": 1.3, "symbolFillColor": "transparent", "labelFont": "Liberation Serif", "labelFontSize": 18, "labelColor": "black", "labelOffset": 17, "rowPadding": 7, "padding": 0}}
      }
    },
    {
      "data": {"name": "label1734"},
      "mark": {"type": "text", "font": "Liberation Serif", "fontSize": 14, "color": "black"},
      "encoding": {
        "x": {"field": "w", "type": "quantitative", "scale": {"domain": [4000, 536], "nice": false, "zero": false},
          "axis": {"orient": "bottom", "offset": -12, "values": [3000, 2000, 1000], "tickSize": 12, "labels": false, "domain": false, "title": null}},
        "y": {"field": "t", "type": "quantitative", "scale": {"domain": [10, 120], "nice": false, "zero": false},
          "axis": {"orient": "left", "offset": -10, "values": [20, 40, 60, 80, 100], "tickSize": 10, "labels": false, "domain": false, "title": null}},
        "text": {"field": "label"}
      }
    },
    {
      "data": {"name": "label1576"},
      "mark": {"type": "text", "font": "Liberation Serif", "fontSize": 14, "color": "black"},
      "encoding": {
        "x": {"field": "w", "type": "quantitative", "scale": {"domain": [4000, 536], "nice": false, "zero": false},
          "axis": {"orient": "bottom", "offset": -7, "values": [3500, 2500, 1500], "tickSize": 7, "labels": false, "domain": false, "title": null}},
        "y": {"field": "t", "type": "quantitative", "scale": {"domain": [10, 120], "nice": false, "zero": false},
          "axis": {"orient": "left", "offset": -6, "values": [30, 50, 70, 90, 110], "tickSize": 6, "labels": false, "domain": false, "title": null}},
        "text": {"field": "label"}
      }
    },
    {
      "data": {"name": "arrows"},
      "mark": {"type": "rule", "strokeWidth": 1.3, "color": "black"},
      "encoding": {
        "x": {"field": "w", "type": "quantitative", "scale": {"domain": [4000, 536], "nice": false, "zero": false},
          "axis": {"orient": "top", "values": [3500], "ticks": false, "tickSize": 0, "labels": false, "domain": true, "title": null}},
        "y": {"field": "t", "type": "quantitative", "scale": {"domain": [10, 120], "nice": false, "zero": false}, "axis": null},
        "x2": {"field": "w2"},
        "y2": {"field": "t2"}
      }
    },
    {
      "data": {"name": "head1734"},
      "mark": {"type": "point", "shape": "M0,-1L0.6,1L-0.6,1Z", "size": 160, "angle": 26, "filled": true, "color": "black", "opacity": 1},
      "encoding": {
        "x": {"field": "w", "type": "quantitative", "scale": {"domain": [4000, 536], "nice": false, "zero": false},
          "axis": {"orient": "top", "offset": -12, "values": [3500, 3000, 2500, 2000, 1500, 1000], "tickSize": 12, "labels": false, "domain": false, "title": null}},
        "y": {"field": "t", "type": "quantitative", "scale": {"domain": [10, 120], "nice": false, "zero": false}, "axis": null}
      }
    },
    {
      "data": {"name": "head1576"},
      "mark": {"type": "point", "shape": "M0,-1L0.6,1L-0.6,1Z", "size": 160, "angle": 9, "filled": true, "color": "black", "opacity": 1},
      "encoding": {
        "x": {"field": "w", "type": "quantitative", "scale": {"domain": [4000, 536], "nice": false, "zero": false},
          "axis": {"orient": "top", "offset": -7, "values": [3750, 3250, 2750, 2250, 1750, 1250, 750], "tickSize": 7, "labels": false, "domain": false, "title": null}},
        "y": {"field": "t", "type": "quantitative", "scale": {"domain": [10, 120], "nice": false, "zero": false}, "axis": null}
      }
    }
  ]
}
